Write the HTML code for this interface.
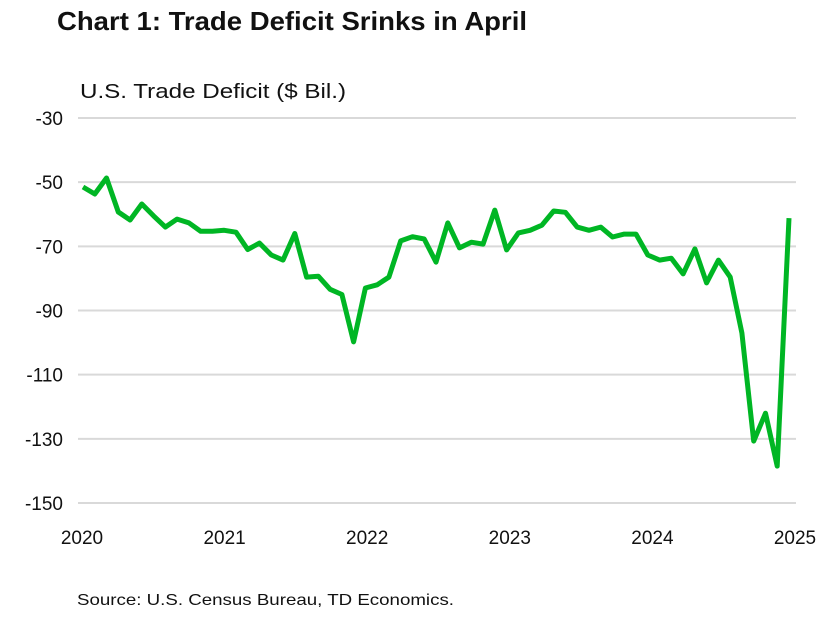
<!DOCTYPE html>
<html><head><meta charset="utf-8"><style>
body{margin:0;background:#fff;font-family:"Liberation Sans",sans-serif}
svg text{font-family:"Liberation Sans",sans-serif;fill:#111}
</style></head><body>
<svg width="827" height="617" id="c">
<text x="57" y="30" font-size="26" font-weight="bold" textLength="470" lengthAdjust="spacingAndGlyphs">Chart 1: Trade Deficit Srinks in April</text>
<text x="80" y="98" font-size="20" textLength="266" lengthAdjust="spacingAndGlyphs">U.S. Trade Deficit ($ Bil.)</text>
<text x="77" y="605" font-size="16" textLength="377" lengthAdjust="spacingAndGlyphs">Source: U.S. Census Bureau, TD Economics.</text>
<g id="grid"></g><g id="xt"></g><path id="line" fill="none" stroke="#00b624" stroke-width="5" stroke-linejoin="round"/>
</svg>
<script>
const yTicks=[-30,-50,-70,-90,-110,-130,-150];
const xLabels=["2020","2021","2022","2023","2024","2025"];
const values=[-51.5,-53.7,-48.7,-59.3,-61.8,-56.8,-60.5,-64,-61.5,-62.7,-65.3,-65.3,-65,-65.6,-71,-69,-72.7,-74.3,-66,-79.6,-79.3,-83.4,-85,-99.8,-83,-82,-79.6,-68.3,-67,-67.7,-74.9,-62.7,-70.5,-68.7,-69.3,-58.7,-71.1,-65.8,-65,-63.4,-59,-59.4,-64,-65,-64,-67.1,-66.2,-66.2,-72.7,-74.3,-73.7,-78.6,-70.8,-81.4,-74.3,-79.6,-97,-130.7,-122,-138.5,-61.2];
const NS="http://www.w3.org/2000/svg";
const y=v=>118+(-30-v)*385/120;
const x=i=>83+i*(789-83)/(values.length-1);
const xl=i=>82+i*142.6;
const g=document.getElementById('grid'),xt=document.getElementById('xt');
yTicks.forEach(t=>{
 const l=document.createElementNS(NS,'line');
 l.setAttribute('x1',78);l.setAttribute('x2',796);l.setAttribute('y1',y(t));l.setAttribute('y2',y(t));
 l.setAttribute('stroke','#d9d9d9');l.setAttribute('stroke-width','2');
 
 
 g.appendChild(l);
 const tx=document.createElementNS(NS,'text');
 tx.setAttribute('x',63);tx.setAttribute('y',y(t)+7);tx.setAttribute('text-anchor','end');tx.setAttribute('font-size','19');
 tx.textContent=t;
 
 
 g.appendChild(tx);
});
xLabels.forEach((s,i)=>{
 const tx=document.createElementNS(NS,'text');
 tx.setAttribute('x',xl(i));tx.setAttribute('y',544);tx.setAttribute('text-anchor','middle');tx.setAttribute('font-size','19');
 tx.textContent=s;
 
 
 xt.appendChild(tx);
});
document.getElementById('line').setAttribute('d',values.map((v,i)=>(i?'L':'M')+x(i).toFixed(1)+','+y(v).toFixed(1)).join(''));
</script>
</body></html>
